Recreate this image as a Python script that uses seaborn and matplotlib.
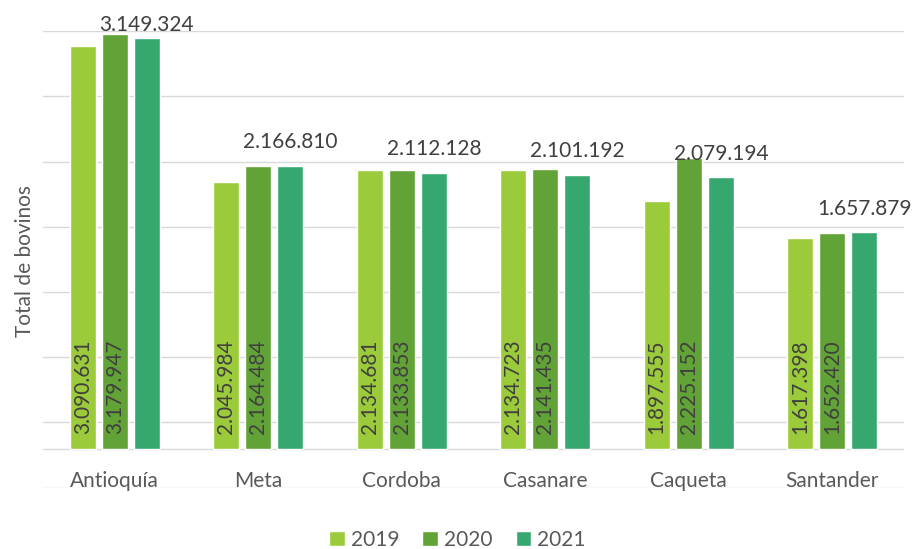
import pandas as pd
import seaborn as sns
import matplotlib.pyplot as plt

# Data
departamentos = ['Antioquía', 'Meta', 'Cordoba', 'Casanare', 'Caqueta', 'Santander']
anios = ['2019', '2020', '2021']
bovinos_2019 = [3090631, 2045984, 2134681, 2134723, 1897555, 1617398]
bovinos_2020 = [3179947, 2164484, 2133853, 2141435, 2225152, 1652420]
bovinos_2021 = [3149324, 2166810, 2112128, 2101192, 2079194, 1657879]
colores = ['#9BCB3A', '#62A337', '#37A770']

def fmt(v):
    return f'{v:,}'.replace(',', '.')

# long-form table for seaborn
rows = []
for anio, serie in zip(anios, [bovinos_2019, bovinos_2020, bovinos_2021]):
    for dep, v in zip(departamentos, serie):
        rows.append({'departamento': dep, 'anio': anio, 'total': v})
df = pd.DataFrame(rows)

sns.set_style('white')
plt.rcParams['font.family'] = ['Lato', 'DejaVu Sans']

fig = plt.figure(figsize=(9.15, 5.49), dpi=100)
ax = fig.add_axes([0.047, 0.1117, 0.941, 0.8313])

ymin, ymax = -300000, 3200000
for g in range(ymin, ymax + 1, 500000):
    ax.axhline(g, color='#D9D9D9', lw=1.0, zorder=0)
ax.axhline(0, color='#D9D9D9', lw=1.0, zorder=0)

sns.barplot(data=df, x='departamento', y='total', hue='anio', palette=colores,
            saturation=1, width=0.67, gap=0.2, ax=ax, legend=True, zorder=2)

ax.set_ylim(ymin, ymax)
ax.set_xlim(-0.5, len(departamentos) - 0.5)
for s in ax.spines.values():
    s.set_visible(False)
ax.set_xticks([])
ax.set_yticks([])
ax.set_xlabel('')
ax.set_ylabel('')

gris = '#595959'
texto = '#404040'

# value labels: 2019/2020 vertical inside the bar, 2021 above the bar
for cont, anio in zip(ax.containers, anios):
    for bar, dep in zip(cont, departamentos):
        v = bar.get_height()
        xc = bar.get_x() + bar.get_width() / 2
        if anio == '2021':
            ax.text(xc, min(v + 105000, ymax - 30000), fmt(int(round(v))), ha='center',
                    va='bottom', fontsize=15, color=texto)
        else:
            ax.text(xc, 110000, fmt(int(round(v))), ha='center', va='bottom',
                    rotation=90, fontsize=15, color=texto)

for i, dep in enumerate(departamentos):
    ax.text(i, -245000, dep, ha='center', va='center', fontsize=15, color=gris)

fig.text(25 / 915, 0.525, 'Total de bovinos', rotation=90, ha='center', va='center',
         fontsize=15, color=gris)

handles, labels = ax.get_legend_handles_labels()
ax.legend_.remove()
fig.legend(handles, labels, loc='center', bbox_to_anchor=(0.5, 0.017), ncol=3,
           frameon=False, fontsize=15, handlelength=0.75, handleheight=0.75,
           handletextpad=0.3, columnspacing=1.1, labelcolor=gris)

fig.savefig('out.png', dpi=100)
